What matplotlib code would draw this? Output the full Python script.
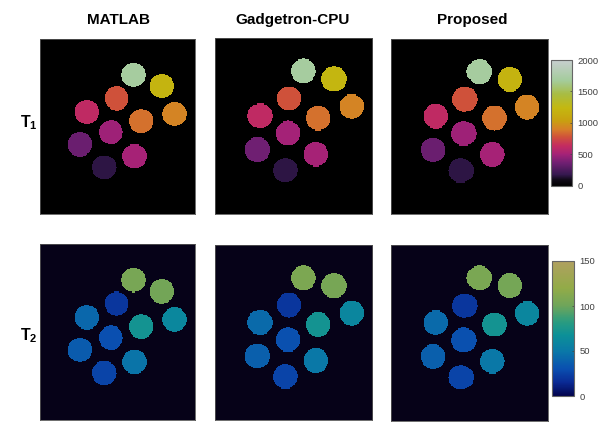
#!/usr/bin/env python3
"""T1 and T2 maps of a ten-vial phantom from three reconstructions."""
import numpy as np
import matplotlib
matplotlib.use("Agg")
import matplotlib.pyplot as plt
from matplotlib.colors import LinearSegmentedColormap

plt.rcParams["font.family"] = ["Liberation Sans", "DejaVu Sans"]
plt.rcParams["mathtext.fontset"] = "custom"
plt.rcParams["mathtext.bf"] = "Liberation Sans:bold"
plt.rcParams["mathtext.rm"] = "Liberation Sans"

W, H = 602, 437
GRID = 156

methods = ["MATLAB", "Gadgetron-CPU", "Proposed"]

# vial centres as fractions of each image, one set per column
cx_matlab = [.606, .787, .869, .655, .494, .300, .457, .256, .612, .412]
cy_matlab = [.204, .269, .429, .469, .339, .417, .533, .602, .670, .733]
cx_gadget = [.560, .753, .864, .655, .468, .285, .462, .268, .640, .445]
cy_gadget = [.188, .233, .389, .454, .343, .442, .541, .634, .660, .751]
cx_proposed = [.562, .755, .866, .657, .470, .287, .464, .270, .643, .447]
cy_proposed = [.187, .231, .389, .452, .344, .441, .540, .634, .660, .752]

# vial values (ms), same vial order as the centres
t1_matlab = [1700, 1210, 915, 860, 780, 620, 490, 350, 510, 170]
t1_gadget = [1700, 1220, 915, 865, 780, 620, 500, 360, 510, 170]
t1_proposed = [1700, 1200, 915, 860, 780, 620, 490, 350, 510, 165]
t2_matlab = [106, 103, 61, 72, 20, 42, 30, 36, 48, 26]
t2_gadget = [108, 105, 60, 72, 20, 43, 31, 38, 50, 26]
t2_proposed = [107, 104, 60, 72, 20, 43, 31, 38, 50, 26]

t1_ticks = [0, 500, 1000, 1500, 2000]
t2_ticks = [0, 50, 100, 150]

t1_colors = [(0, "#000000"), (.05, "#100a18"), (.09, "#35184f"), (.18, "#6f1f72"), (.25, "#a42278"),
             (.32, "#c42c60"), (.39, "#d0523a"), (.45, "#d68028"), (.52, "#c8a010"), (.62, "#c4b810"),
             (.73, "#a8bc44"), (.84, "#a4cc9c"), (1, "#c8ced0")]
t2_colors = [(0, "#03044e"), (.10, "#0a2a94"), (.20, "#0a4fb0"), (.33, "#0a78a8"), (.45, "#0c9098"),
             (.55, "#2a9c80"), (.67, "#6fa55a"), (.80, "#92ab48"), (1, "#b0a060")]

t1_cmap = LinearSegmentedColormap.from_list("t1map", t1_colors, N=256)
t1_cmap.set_bad("#000000")
t2_cmap = LinearSegmentedColormap.from_list("t2map", t2_colors, N=256)
t2_cmap.set_bad("#060218")

# panel boxes in pixels: left, top, right, bottom
t1_boxes = [(40, 39, 195, 214), (215, 38.3, 372, 214), (391, 39.3, 548, 214)]
t2_boxes = [(40, 244.3, 195, 420), (215, 245.3, 372, 420), (391, 245.3, 548, 420.7)]


def px_axes(fig, box):
    l, t, r, b = box
    return fig.add_axes([l / W, 1 - b / H, (r - l) / W, (b - t) / H])


def vial_map(cx, cy, values, aspect):
    """Paint the vials on a NaN background; aspect is panel height over width."""
    c = (np.arange(GRID) + .5) / GRID
    X, Y = np.meshgrid(c, c)
    img = np.full((GRID, GRID), np.nan)
    for x0, y0, v in zip(cx, cy, values):
        img[((X - x0) / .0785) ** 2 + ((Y - y0) * aspect / .0785) ** 2 <= 1] = v
    return img


def draw_panel(fig, box, cx, cy, values, cmap, vmax):
    ax = px_axes(fig, box)
    aspect = (box[3] - box[1]) / (box[2] - box[0])
    im = ax.imshow(vial_map(cx, cy, values, aspect), cmap=cmap, vmin=0, vmax=vmax,
                   extent=[0, 1, 1, 0], aspect="auto", interpolation="nearest")
    ax.set_xticks([]); ax.set_yticks([])
    for s in ax.spines.values():
        s.set_linewidth(.6); s.set_color("#555555")
    return im


def main():
    fig = plt.figure(figsize=(W / 100, H / 100), dpi=100, facecolor="white")

    centres = [(cx_matlab, cy_matlab), (cx_gadget, cy_gadget), (cx_proposed, cy_proposed)]
    t1_values = [t1_matlab, t1_gadget, t1_proposed]
    t2_values = [t2_matlab, t2_gadget, t2_proposed]

    for i in range(3):
        im1 = draw_panel(fig, t1_boxes[i], *centres[i], t1_values[i], t1_cmap, 2000)
        im2 = draw_panel(fig, t2_boxes[i], *centres[i], t2_values[i], t2_cmap, 150)

    for bar_box, im, ticks in [((551, 60, 572, 186), im1, t1_ticks), ((552, 261, 574, 396), im2, t2_ticks)]:
        cax = px_axes(fig, bar_box)
        cb = fig.colorbar(im, cax=cax, ticks=ticks)
        cb.ax.tick_params(labelsize=6.8, length=1.5, width=.5, direction="in", pad=4,
                          colors="#404040")
        cb.outline.set_edgecolor("#666666")
        cb.outline.set_linewidth(.8)

    for name, xc in zip(methods, [118, 293, 472]):
        fig.text(xc / W, 1 - 24 / H, name, ha="center", va="baseline", fontsize=11, fontweight="bold")
    fig.text(20 / W, 1 - 127 / H, r"$\mathbf{T}_{\mathbf{1}}$", fontsize=11.5, ha="left", va="baseline")
    fig.text(20 / W, 1 - 340 / H, r"$\mathbf{T}_{\mathbf{2}}$", fontsize=11.5, ha="left", va="baseline")

    fig.savefig("out.png", dpi=100, facecolor="white")


if __name__ == "__main__":
    main()
